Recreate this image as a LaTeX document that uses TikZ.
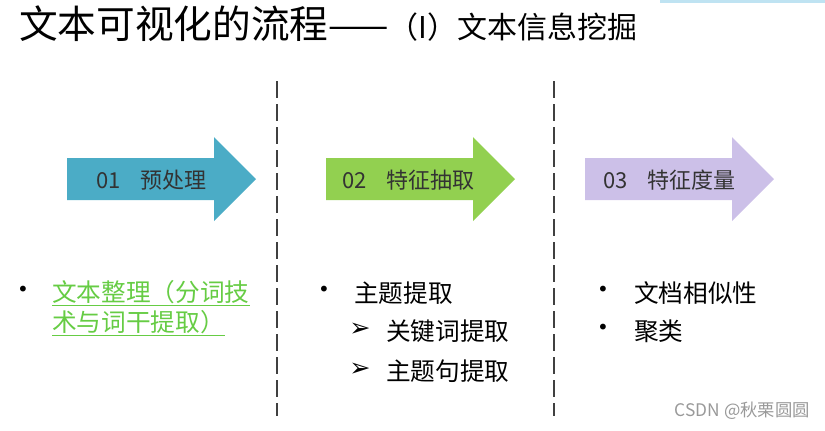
\documentclass[tikz,border=0pt]{standalone}
\usepackage{fontspec}
\setmainfont{Noto Sans CJK SC}
\newfontfamily\symfont{DejaVu Sans}
\definecolor{arrowblue}{HTML}{4BACC6}
\definecolor{arrowgreen}{HTML}{92D050}
\definecolor{arrowpurple}{HTML}{CCC0E8}
\definecolor{linkgreen}{HTML}{66CC44}
\definecolor{darktext}{HTML}{333333}
\definecolor{sepgray}{HTML}{404040}
\definecolor{topblue}{HTML}{BFE3F2}
\begin{document}
\begin{tikzpicture}[x=0.75pt,y=-0.75pt,
  arrowtext/.style={anchor=west, inner sep=0, text=darktext, font=\fontsize{16.5}{20}\selectfont},
  listtext/.style={anchor=west, inner sep=0, font=\fontsize{18.5}{22}\selectfont},
  dot/.style={inner sep=0, font=\symfont\fontsize{15}{18}\selectfont},
  subarrow/.style={inner sep=0, font=\symfont\fontsize{19}{22}\selectfont},
  sepline/.style={sepgray, line width=1.1pt, dash pattern=on 12.75pt off 4.5pt}]
\useasboundingbox (0,0) rectangle (825,430);
\fill[topblue] (660,0) rectangle (825,2.5);
% title
\node[anchor=base west, inner sep=0] (title) at (19,38)
  {\fontsize{29}{34}\selectfont 文本可视化的流程\fontsize{27}{30}\selectfont ——\fontsize{22.5}{26}\selectfont （I）文本信息挖掘};
% three steps
\fill[arrowblue] (67,158)--(214,158)--(214,137)--(256,179)--(214,221)--(214,200)--(67,200)--cycle;
\fill[arrowgreen] (326,158)--(473,158)--(473,137)--(515,179)--(473,221)--(473,200)--(326,200)--cycle;
\fill[arrowpurple] (585,158)--(732,158)--(732,137)--(774,179)--(732,221)--(732,200)--(585,200)--cycle;
\node[arrowtext] (step1) at (96,180) {01\hspace{0.9em}预处理};
\node[arrowtext] (step2) at (342,180) {02\hspace{0.9em}特征抽取};
\node[arrowtext] (step3) at (603,180) {03\hspace{0.9em}特征度量};
% separators
\coordinate (sepa) at (277,81);
\coordinate (sepb) at (554,81);
\draw[sepline] (sepa)--(277,416);
\draw[sepline] (sepb)--(554,416);
% column 1
\node[dot] (dota) at (23,291) {•};
\node[listtext, text=linkgreen] (clean1) at (52,293) {\underline{文本整理（分词技}};
\node[listtext, text=linkgreen] (clean2) at (52,323) {\underline{术与词干提取）}};
% column 2
\node[dot] (dotb) at (324,291) {•};
\node[listtext] (topic) at (354,293) {主题提取};
\node[subarrow] (subka) at (360,330) {➢};
\node[listtext] (keyword) at (386,331) {关键词提取};
\node[subarrow] (subkb) at (360,370) {➢};
\node[listtext] (sentence) at (386,371) {主题句提取};
% column 3
\node[dot] (dotc) at (603,291) {•};
\node[listtext] (similar) at (634,293) {文档相似性};
\node[dot] (dotd) at (603,329) {•};
\node[listtext] (cluster) at (634,331) {聚类};
\node[anchor=east, inner sep=0, text=black!40, font=\fontsize{13}{15}\selectfont] (mark) at (810,411) {CSDN @秋栗圆圆};
\end{tikzpicture}
\end{document}
